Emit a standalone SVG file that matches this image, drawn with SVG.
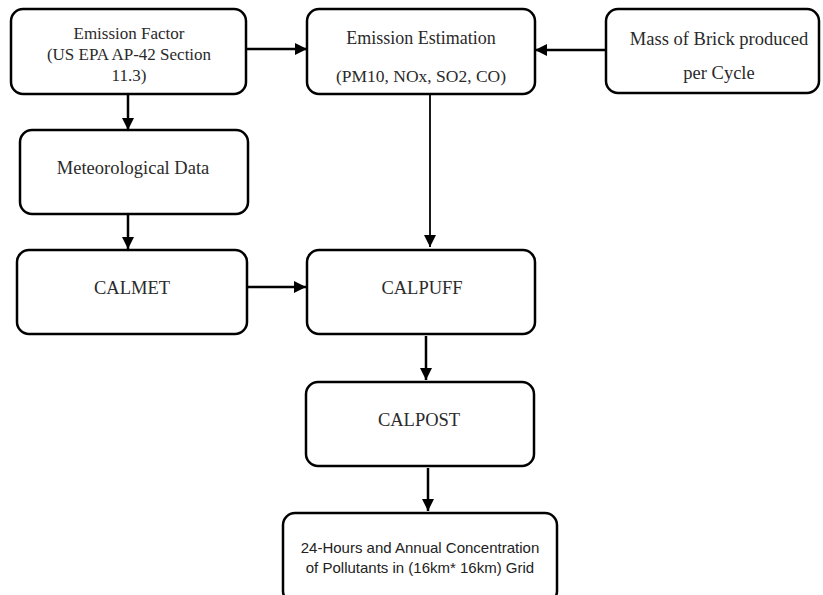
<svg xmlns="http://www.w3.org/2000/svg" width="823" height="595" viewBox="0 0 823 595">
<defs>
<marker id="ah" markerUnits="userSpaceOnUse" markerWidth="12" markerHeight="12" refX="12" refY="6" orient="auto">
<path d="M0,0 L12,6 L0,12 z" fill="#000"/>
</marker>
<style>
.box{fill:#fff;stroke:#000;stroke-width:2.5}
.t{font-family:"Liberation Serif","Times New Roman",serif;fill:#2a2a2a;text-anchor:middle}
.s{font-family:"Liberation Sans",Arial,sans-serif;fill:#222;text-anchor:middle;font-size:15px}
.c{stroke:#000;stroke-width:2.5;fill:none;marker-end:url(#ah)}
</style>
</defs>
<rect width="823" height="595" fill="#fff"/>
<g id="emission-factor">
<rect class="box" x="11" y="9" width="235" height="85" rx="12"/>
<text class="t" font-size="17" x="129" y="39">Emission Factor</text>
<text class="t" font-size="17" x="129" y="60">(US EPA AP-42 Section</text>
<text class="t" font-size="17" x="129" y="81">11.3)</text>
</g>
<g id="emission-estimation">
<rect class="box" x="307" y="9" width="228" height="85" rx="12"/>
<text class="t" font-size="18" x="421" y="44">Emission Estimation</text>
<text class="t" font-size="17.5" x="421" y="82">(PM10, NOx, SO2, CO)</text>
</g>
<g id="mass-brick">
<rect class="box" x="606" y="9" width="213" height="84" rx="12"/>
<text class="t" font-size="18.5" x="719" y="45">Mass of Brick produced</text>
<text class="t" font-size="18.5" x="719" y="79">per Cycle</text>
</g>
<g id="meteorological-data">
<rect class="box" x="20" y="130" width="228" height="84" rx="12"/>
<text class="t" font-size="18.5" x="133" y="174">Meteorological Data</text>
</g>
<g id="calmet">
<rect class="box" x="17" y="250" width="230" height="84" rx="12"/>
<text class="t" font-size="18.5" x="132" y="294">CALMET</text>
</g>
<g id="calpuff">
<rect class="box" x="307" y="250" width="228" height="84" rx="12"/>
<text class="t" font-size="18.5" x="422" y="294">CALPUFF</text>
</g>
<g id="calpost">
<rect class="box" x="306" y="382" width="228" height="84" rx="12"/>
<text class="t" font-size="18.5" x="419" y="426">CALPOST</text>
</g>
<g id="concentration">
<rect class="box" x="283" y="513" width="274" height="90" rx="12"/>
<text class="s" x="420" y="553">24-Hours and Annual Concentration</text>
<text class="s" x="420" y="573">of Pollutants in (16km* 16km) Grid</text>
</g>
<g id="connectors">
<line class="c" x1="246" y1="49" x2="307" y2="49"/>
<line class="c" x1="606" y1="50" x2="535" y2="50"/>
<line class="c" x1="128" y1="94" x2="128" y2="130"/>
<line class="c" x1="128" y1="214" x2="128" y2="249"/>
<line class="c" x1="430" y1="94" x2="430" y2="247" style="stroke-width:1.8"/>
<line class="c" x1="247" y1="287" x2="306" y2="287"/>
<line class="c" x1="426" y1="336" x2="426" y2="380"/>
<line class="c" x1="428" y1="468" x2="428" y2="511"/>
</g>
</svg>
